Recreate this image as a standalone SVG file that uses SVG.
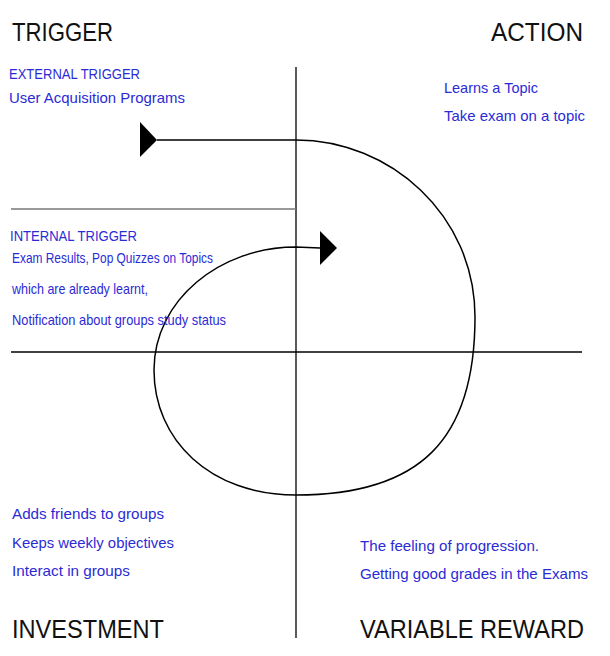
<svg xmlns="http://www.w3.org/2000/svg" width="610" height="656" viewBox="0 0 610 656">
<style>
.t{font-family:"Liberation Sans",Arial,sans-serif;font-size:26px;fill:#111}
.b{font-family:"Liberation Sans",Arial,sans-serif;font-size:14.5px;fill:#2b2bd6}
.ax{stroke:#000;stroke-width:1.3;fill:none}
.loop{stroke:#000;stroke-width:1.5;fill:none}
</style>
<rect width="610" height="656" fill="#fff"/>
<g id="axes">
<line class="ax" x1="296" y1="67" x2="296" y2="638"/>
<line class="ax" x1="11" y1="352" x2="582" y2="352"/>
<line x1="11" y1="209" x2="296" y2="209" stroke="#777" stroke-width="1.5"/>
</g>
<g id="connectors">
<path class="loop" d="M157,140 L296,140 C390,140 475,215 475,317 C475,440 420,495 296,495 C210,495 154,440 154,370 C154,300 220,247 296,247 L320,248"/>
<path d="M140,122 L157,140 L140,157 Z" fill="#000"/>
<path d="M320,231 L337,248 L320,265 Z" fill="#000"/>
</g>
<g id="trigger">
<text class="t" x="12" y="41" textLength="101" lengthAdjust="spacingAndGlyphs">TRIGGER</text>
<text class="b" x="9" y="79" textLength="131" lengthAdjust="spacingAndGlyphs">EXTERNAL TRIGGER</text>
<text class="b" x="9" y="103" textLength="176" lengthAdjust="spacingAndGlyphs">User Acquisition Programs</text>
<text class="b" x="10" y="241" textLength="127" lengthAdjust="spacingAndGlyphs">INTERNAL TRIGGER</text>
<text class="b" x="12" y="263" textLength="201" lengthAdjust="spacingAndGlyphs">Exam Results, Pop Quizzes on Topics</text>
<text class="b" x="12" y="294" textLength="136" lengthAdjust="spacingAndGlyphs">which are already learnt,</text>
<text class="b" x="12" y="325" textLength="214" lengthAdjust="spacingAndGlyphs">Notification about groups study status</text>
</g>
<g id="action">
<text class="t" x="491" y="41" textLength="92" lengthAdjust="spacingAndGlyphs">ACTION</text>
<text class="b" x="444" y="93" textLength="94" lengthAdjust="spacingAndGlyphs">Learns a Topic</text>
<text class="b" x="444" y="121" textLength="141" lengthAdjust="spacingAndGlyphs">Take exam on a topic</text>
</g>
<g id="investment">
<text class="b" x="12" y="519" textLength="152" lengthAdjust="spacingAndGlyphs">Adds friends to groups</text>
<text class="b" x="12" y="548" textLength="162" lengthAdjust="spacingAndGlyphs">Keeps weekly objectives</text>
<text class="b" x="12" y="576" textLength="118" lengthAdjust="spacingAndGlyphs">Interact in groups</text>
<text class="t" x="12" y="638" textLength="152" lengthAdjust="spacingAndGlyphs">INVESTMENT</text>
</g>
<g id="reward">
<text class="b" x="360" y="551" textLength="179" lengthAdjust="spacingAndGlyphs">The feeling of progression.</text>
<text class="b" x="360" y="579" textLength="228" lengthAdjust="spacingAndGlyphs">Getting good grades in the Exams</text>
<text class="t" x="360" y="638" textLength="224" lengthAdjust="spacingAndGlyphs">VARIABLE REWARD</text>
</g>
</svg>
